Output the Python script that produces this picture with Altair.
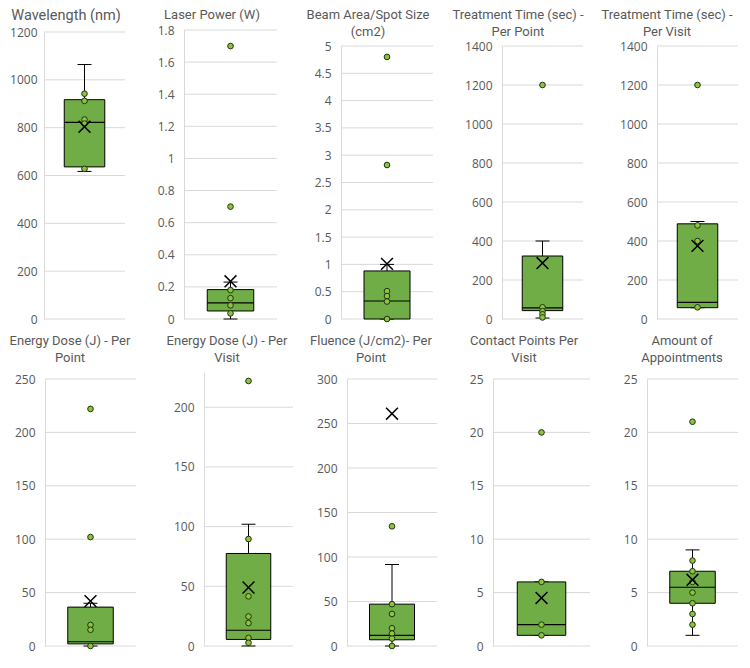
import altair as alt
import pandas as pd

# ---------------- data ----------------
titles = [
    "Wavelength (nm)",
    "Laser Power (W)",
    "Beam Area/Spot Size\n(cm2)",
    "Treatment Time (sec) -\nPer Point",
    "Treatment Time (sec) -\nPer Visit",
    "Energy Dose (J) - Per\nPoint",
    "Energy Dose (J) - Per\nVisit",
    "Fluence (J/cm2)- Per\nPoint",
    "Contact Points Per\nVisit",
    "Amount of\nAppointments",
]
y_max = [1200, 1.8, 5, 1400, 1400, 250, 229, 300, 25, 25]
tick_values = [
    [0, 200, 400, 600, 800, 1000, 1200],
    [0, 0.2, 0.4, 0.6, 0.8, 1, 1.2, 1.4, 1.6, 1.8],
    [0, 0.5, 1, 1.5, 2, 2.5, 3, 3.5, 4, 4.5, 5],
    [0, 200, 400, 600, 800, 1000, 1200, 1400],
    [0, 200, 400, 600, 800, 1000, 1200, 1400],
    [0, 50, 100, 150, 200, 250],
    [0, 50, 100, 150, 200],
    [0, 50, 100, 150, 200, 250, 300],
    [0, 5, 10, 15, 20, 25],
    [0, 5, 10, 15, 20, 25],
]
whisker_low = [617, 0, 0, 5, 58, 0, 0, 0, 1, 1]
q1 = [636, 0.05, 0, 43, 58, 2, 5.5, 7, 1, 4]
median = [822, 0.1, 0.33, 57, 85, 4, 13.2, 12, 2, 5.5]
q3 = [917, 0.183, 0.88, 323, 488, 36.4, 77.5, 47, 6, 7]
whisker_high = [1064, 0.23, 1.0, 400, 500, 40, 102, 91.6, 6, 9]
means = [804, 0.235, 1.01, 287, 375, 42, 49, 261, 4.5, 6.2]
points = [
    [942, 912, 834, 817, 628],
    [1.7, 0.7, 0.18, 0.13, 0.085, 0.035],
    [4.8, 2.82, 0.51, 0.42, 0.32, 0.0],
    [1200, 60, 40, 24, 8],
    [1200, 480, 400, 60],
    [222, 102, 19.7, 15.2, 0],
    [222, 89.6, 41.6, 24.7, 19.2, 6.8, 2.7],
    [134.5, 47, 36, 20, 14, 8.4, 0],
    [20, 6, 2, 1],
    [21, 8, 7, 6, 5, 4, 3, 2],
]

# ---------------- layout (styles only, page pixels) ----------------
PAGE_X0 = 8
PAGE_Y0 = 11
CELL_W = 146
ROW_H = [324, 320]
ROW_TOP = [PAGE_Y0, PAGE_Y0 + ROW_H[0]]
plot_lr = [(44, 125), (184, 277), (341, 433), (502, 583), (657, 738),
           (45, 136), (204, 293), (347, 437), (493, 590), (647, 738)]
zero_y = [321, 321, 321, 321, 321, 648, 648, 648, 648, 648]
top_y = [34, 32, 48, 48, 48, 381, 374.6, 381, 381, 381]
title_cx = [66, 212, 368, 518, 667, 70, 227, 371, 524, 682]
title_top = [11, 11, 11, 11, 11, 337, 337, 337, 337, 337]
title_size = [14.5, 13, 13, 13, 13, 13, 13, 13, 13, 13]
label_pad = [7, 10, 10, 10, 10, 10, 10, 10, 10, 10]

FONT = "Open Sans"
TITLE_FONT = "Roboto"
GRID = "#d9d9d9"
TEXT = "#595959"
BOX_FILL = "#70AD47"
PT_FILL = "#8CC43F"
PT_STROKE = "#1f3312"
XSHAPE = "M-1,-1L1,1M-1,1L1,-1"


def panel(i):
    col, row = i % 5, i // 5
    ox = PAGE_X0 + CELL_W * col
    oy = ROW_TOP[row]
    pl = plot_lr[i][0] - ox
    pr = plot_lr[i][1] - ox
    cx = (pl + pr) / 2
    bw = (pr - pl) / 4
    sc = alt.Scale(domain=[0, y_max[i]], range=[zero_y[i] - oy, top_y[i] - oy],
                   nice=False, zero=True)
    ax = alt.Axis(
        values=tick_values[i], grid=False, ticks=False, domain=True,
        domainColor=GRID, domainWidth=1, labelColor=TEXT, labelFont=FONT,
        labelFontSize=12, labelPadding=label_pad[i], offset=-pl,
        labelExpr="'' + datum.value", title=None, labelOverlap=False)

    def Y(f):
        return alt.Y(f, scale=sc, axis=ax, title=None)

    grid = alt.Chart(pd.DataFrame({"v": tick_values[i]})).mark_rule(
        color=GRID, strokeWidth=1
    ).encode(y=Y("v:Q"), x=alt.value(pl), x2=alt.value(pr))

    stats = pd.DataFrame({
        "lo": [whisker_low[i]], "q1": [q1[i]], "med": [median[i]],
        "q3": [q3[i]], "hi": [whisker_high[i]], "mean": [means[i]],
    })
    base = alt.Chart(stats)
    whisk = base.mark_rule(color="black", strokeWidth=1).encode(
        x=alt.value(cx), y=Y("lo:Q"), y2="hi:Q")
    caps = alt.Chart(pd.DataFrame({"v": [whisker_low[i], whisker_high[i]]})).mark_rule(
        color="black", strokeWidth=1).encode(
        y=Y("v:Q"), x=alt.value(cx - 7), x2=alt.value(cx + 7))
    box = base.mark_rect(fill=BOX_FILL, stroke="black", strokeWidth=1).encode(
        y=Y("q1:Q"), y2="q3:Q", x=alt.value(cx - bw), x2=alt.value(cx + bw))
    med = base.mark_rule(color="black", strokeWidth=1.2).encode(
        y=Y("med:Q"), x=alt.value(cx - bw), x2=alt.value(cx + bw))
    pts = alt.Chart(pd.DataFrame({"v": points[i]})).mark_point(
        shape="circle", filled=True, fill=PT_FILL, stroke=PT_STROKE,
        strokeWidth=1, size=32, opacity=1).encode(y=Y("v:Q"), x=alt.value(cx))
    mean = base.mark_point(shape=XSHAPE, filled=False, stroke="black",
                           strokeWidth=1.5, size=140, opacity=1).encode(
        y=Y("mean:Q"), x=alt.value(cx))
    title = alt.Chart(pd.DataFrame({"t": [titles[i]]})).mark_text(
        align="center", baseline="top", font=TITLE_FONT, fontSize=title_size[i],
        color=TEXT, lineBreak="\n", lineHeight=17).encode(
        text="t:N", x=alt.value(title_cx[i] - ox), y=alt.value(title_top[i] - oy))

    return alt.layer(grid, whisk, caps, box, med, pts, mean, title).properties(
        width=CELL_W, height=ROW_H[row])


chart = alt.concat(*[panel(i) for i in range(10)], columns=5, spacing=0,
                   bounds="flush", align="each").properties(
    padding={"left": 0, "top": 0, "right": 0, "bottom": 0}
).configure_view(strokeWidth=0)

chart.save("out.html", embed_options={"renderer": "svg", "actions": False})
